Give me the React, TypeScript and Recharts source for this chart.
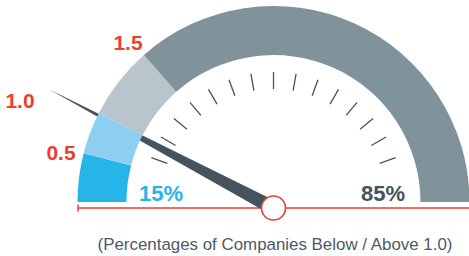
import { PieChart, Pie, Cell, Customized } from 'recharts';

// share of companies per beta band (percent of the gauge)
const bands = ['0 - 0.5', '0.5 - 1.0', '1.0 - 1.5', '> 1.5'];
const bandShares = [8, 7, 12, 73];
const bandColors = ['#27b4e8', '#8dcff0', '#b9c5cc', '#80929a'];
const boundaryLabels = ['0.5', '1.0', '1.5'];
const belowLabel = '15%';
const aboveLabel = '85%';
const needleValue = 15.5;
const tickDegrees = [20, 30, 40, 50, 60, 70, 80, 90, 100, 110, 120, 130, 140, 150, 160];

const data = bands.map((name, i) => ({ name, value: bandShares[i] }));

const W = 469;
const H = 256;
const CX = 273.5;
const CY = 202;
const PIVOT_Y = 208;
const RED = '#ee3d31';
const SLATE = '#44535d';
const RAD = Math.PI / 180;

function Overlay() {
  const total = bandShares.reduce((a, b) => a + b, 0);
  const ang = 180 - (needleValue / total) * 180;
  const len = 254;
  const tipX = CX + len * Math.cos(ang * RAD);
  const tipY = PIVOT_Y - len * Math.sin(ang * RAD);
  const nx = -Math.sin(ang * RAD);
  const ny = -Math.cos(ang * RAD);
  const hw = 7;
  const needle = `${CX + nx * hw},${PIVOT_Y + ny * hw} ${CX - nx * hw},${PIVOT_Y - ny * hw} ${tipX},${tipY}`;

  const labelPos = [
    { x: 61, y: 160 },
    { x: 20, y: 108 },
    { x: 128, y: 50 },
  ];

  return (
    <g>
      {tickDegrees.map((d) => (
        <line
          key={d}
          x1={CX + 113 * Math.cos(d * RAD)}
          y1={CY - 113 * Math.sin(d * RAD)}
          x2={CX + 130 * Math.cos(d * RAD)}
          y2={CY - 130 * Math.sin(d * RAD)}
          stroke={SLATE}
          strokeWidth={1.3}
        />
      ))}
      <line x1={78} y1={PIVOT_Y} x2={W} y2={PIVOT_Y} stroke={RED} strokeWidth={1.5} />
      <line x1={78} y1={PIVOT_Y - 3.5} x2={78} y2={PIVOT_Y + 3.5} stroke={RED} strokeWidth={1.5} />
      <polygon points={needle} fill={SLATE} />
      <circle cx={CX} cy={PIVOT_Y} r={12} fill="#fff" stroke={RED} strokeWidth={1.6} />
      {boundaryLabels.map((t, i) => (
        <text
          key={t}
          x={labelPos[i].x}
          y={labelPos[i].y}
          textAnchor="middle"
          fontFamily="'Liberation Sans', Arial, sans-serif"
          fontWeight="bold"
          fontSize={21}
          fill={RED}
        >
          {t}
        </text>
      ))}
      <text x={161} y={201} textAnchor="middle" fontFamily="'Liberation Sans', Arial, sans-serif" fontWeight="bold" fontSize={22} fill="#2bb3e8">
        {belowLabel}
      </text>
      <text x={383} y={201} textAnchor="middle" fontFamily="'Liberation Sans', Arial, sans-serif" fontWeight="bold" fontSize={22} fill={SLATE}>
        {aboveLabel}
      </text>
      <text x={275} y={249.5} textAnchor="middle" fontFamily="'Liberation Sans', Arial, sans-serif" fontSize={16.9} fill="#4d5a66">
        (Percentages of Companies Below / Above 1.0)
      </text>
    </g>
  );
}

export default function App() {
  return (
    <div style={{ position: 'absolute', left: 0, top: 0, width: W, height: H, background: '#fff' }}>
      <PieChart width={W} height={H} margin={{ top: 0, right: 0, bottom: 0, left: 0 }}>
        <Pie
          data={data}
          dataKey="value"
          cx={CX}
          cy={CY}
          startAngle={180}
          endAngle={0}
          innerRadius={147}
          outerRadius={196}
          stroke="none"
          isAnimationActive={false}
        >
          {data.map((d, i) => (
            <Cell key={d.name} fill={bandColors[i]} />
          ))}
        </Pie>
        <Customized component={Overlay} />
      </PieChart>
    </div>
  );
}
